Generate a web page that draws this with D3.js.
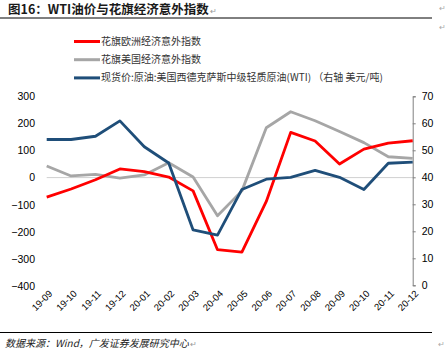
<!DOCTYPE html>
<html>
<head>
<meta charset="utf-8">
<script src="https://cdn.jsdelivr.net/npm/d3@7"></script>
<style>
  body { margin: 0; background: #fff; }
  svg { display: block; }
</style>
</head>
<body>
<div id="root"><svg width="446" height="354"></svg></div>
<script>
const months = ['19-09', '19-10', '19-11', '19-12', '20-01', '20-02', '20-03', '20-04',
  '20-05', '20-06', '20-07', '20-08', '20-09', '20-10', '20-11', '20-12'];
const euroSurprise = [-72, -42, -8, 32, 22, 2, -49, -266, -275, -88, 167, 135, 50, 105, 127, 136];
const usSurprise = [43, 6, 12, -2, 10, 55, 2, -141, -49, 184, 243, 210, 170, 129, 77, 71];
const wtiPrice = [54.0, 54.0, 55.2, 60.9, 51.3, 45.3, 20.5, 18.6, 35.5, 39.3, 40.0, 42.6, 40.0, 35.5, 45.2, 45.6];
const leftTicks = [300, 200, 100, 0, -100, -200, -300, -400];
const rightTicks = [0, 10, 20, 30, 40, 50, 60, 70];
const legendNames = ['花旗欧洲经济意外指数', '花旗美国经济意外指数', '现货价:原油:美国西德克萨斯中级轻质原油(WTI) （右轴 美元/吨)'];

function drawChart() {
  const svg = d3.select('#root svg');
  const plotLeft = 46.7;
  const plotRight = 412.7;
  const plotTop = 96.3;
  const plotBottom = 286;
  const cjk = '"Noto Sans CJK SC", "Noto Sans", sans-serif';
  const latin = '"Liberation Sans", Arial, sans-serif';

  const xScale = d3.scalePoint().domain(months).range([plotLeft, plotRight]);
  const yLeft = d3.scaleLinear().domain([-400, 300]).range([plotBottom, plotTop]);
  const yRight = d3.scaleLinear().domain([0, 70]).range([plotBottom - 0.7, plotTop]);

  // title
  const title = svg.append('text')
    .attr('x', 8).attr('y', 14)
    .attr('font-family', cjk).attr('font-weight', 'bold')
    .attr('font-size', '12.5px').attr('fill', '#1a1a1a')
    .text('图16：WTI油价与花旗经济意外指数');
  const titleEnd = 8 + title.node().getComputedTextLength();
  svg.append('text')
    .attr('x', titleEnd + 1).attr('y', 14)
    .attr('font-family', cjk).attr('font-size', '8px').attr('fill', '#999')
    .text('↵');
  svg.append('line')
    .attr('x1', 0).attr('x2', 432).attr('y1', 18).attr('y2', 18)
    .attr('stroke', '#000').attr('stroke-width', 1);
  [11, 30].forEach((y) => {
    svg.append('text')
      .attr('x', 439).attr('y', y)
      .attr('font-family', cjk).attr('font-size', '8px').attr('fill', '#aaa')
      .text('↵');
  });

  // legend
  const legendColors = ['#ff0000', '#a6a6a6', '#1f4e79'];
  legendNames.forEach((name, i) => {
    const y = 41.5 + i * 18.2;
    svg.append('line')
      .attr('x1', 74).attr('x2', 100).attr('y1', y).attr('y2', y)
      .attr('stroke', legendColors[i]).attr('stroke-width', 3);
    svg.append('text')
      .attr('x', 101).attr('y', y).attr('dy', '0.35em')
      .attr('font-family', cjk).attr('font-size', '10px').attr('fill', '#333')
      .text(name);
  });

  // zero line
  svg.append('line')
    .attr('x1', plotLeft).attr('x2', plotRight)
    .attr('y1', yLeft(0)).attr('y2', yLeft(0))
    .attr('stroke', '#d0d0d0').attr('stroke-width', 1);

  // left axis (labels only)
  const yAxisLeft = d3.axisLeft(yLeft).tickValues(leftTicks).tickSize(0).tickPadding(0);
  const gLeft = svg.append('g')
    .attr('transform', 'translate(35 0)')
    .call(yAxisLeft);
  gLeft.select('.domain').remove();
  gLeft.selectAll('text')
    .attr('font-family', latin).attr('font-size', '10.5px').attr('fill', '#000');

  // right axis
  const yAxisRight = d3.axisRight(yRight).tickValues(rightTicks).tickSize(3).tickPadding(6);
  const gRight = svg.append('g')
    .attr('transform', `translate(${plotRight} 0)`)
    .call(yAxisRight);
  gRight.select('.domain').attr('stroke', '#808080');
  gRight.selectAll('.tick line').attr('stroke', '#808080');
  gRight.selectAll('text')
    .attr('font-family', latin).attr('font-size', '10.5px').attr('fill', '#000');

  // x labels
  svg.append('g').selectAll('text')
    .data(months)
    .enter()
    .append('text')
    .attr('transform', (d) => `translate(${xScale(d) + 4} 292) rotate(-45)`)
    .attr('text-anchor', 'end')
    .attr('dy', '0.35em')
    .attr('font-family', latin).attr('font-size', '9.5px').attr('fill', '#000')
    .text((d) => d);

  // series lines
  const lineLeft = d3.line().x((d, i) => xScale(months[i])).y((d) => yLeft(d));
  const lineRight = d3.line().x((d, i) => xScale(months[i])).y((d) => yRight(d));

  svg.append('path').datum(usSurprise)
    .attr('d', lineLeft).attr('fill', 'none')
    .attr('stroke', '#a6a6a6').attr('stroke-width', 2.8).attr('stroke-linejoin', 'round');
  svg.append('path').datum(euroSurprise)
    .attr('d', lineLeft).attr('fill', 'none')
    .attr('stroke', '#ff0000').attr('stroke-width', 2.8).attr('stroke-linejoin', 'round');
  svg.append('path').datum(wtiPrice)
    .attr('d', lineRight).attr('fill', 'none')
    .attr('stroke', '#1f4e79').attr('stroke-width', 2.8).attr('stroke-linejoin', 'round');

  // footer
  svg.append('line')
    .attr('x1', 0).attr('x2', 432).attr('y1', 332.5).attr('y2', 332.5)
    .attr('stroke', '#000').attr('stroke-width', 1);
  const footer = svg.append('text')
    .attr('x', 5).attr('y', 347)
    .attr('font-family', cjk).attr('font-size', '10px').attr('fill', '#222')
    .attr('font-style', 'italic')
    .text('数据来源：Wind，广发证券发展研究中心');
  const footerEnd = 5 + footer.node().getComputedTextLength();
  svg.append('text')
    .attr('x', footerEnd + 1).attr('y', 347)
    .attr('font-family', cjk).attr('font-size', '8px').attr('fill', '#999')
    .text('↵');
  svg.append('text')
    .attr('x', 438).attr('y', 347)
    .attr('font-family', cjk).attr('font-size', '8px').attr('fill', '#aaa')
    .text('↵');
}

window.addEventListener('load', function() {
  drawChart();
});
</script>
</body>
</html>
